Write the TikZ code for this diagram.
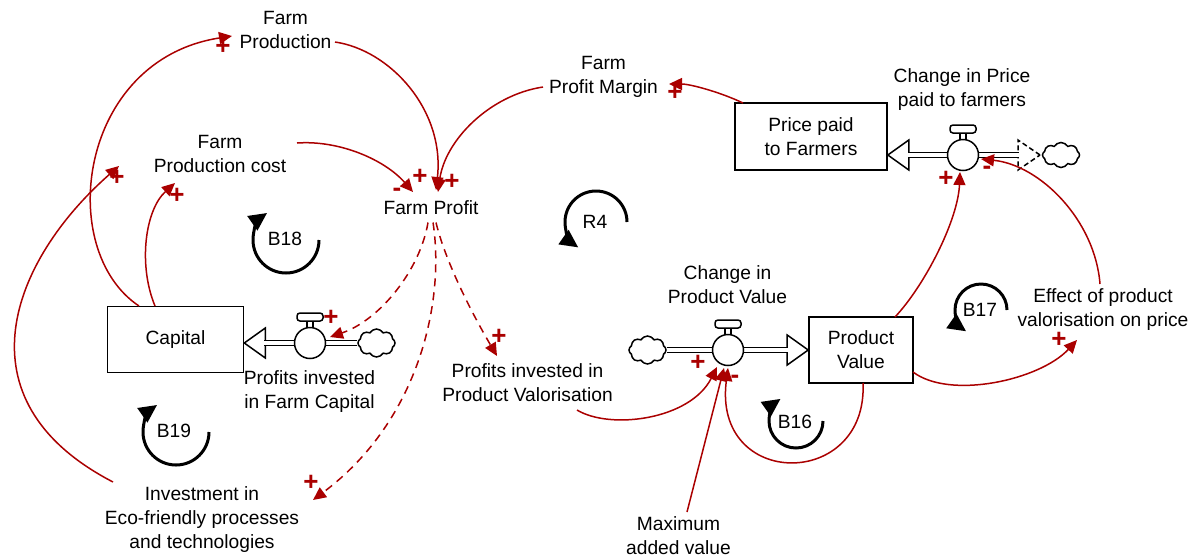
\documentclass[tikz,border=0pt]{standalone}
\usepackage{fontspec}
\setmainfont{Liberation Sans}
\usetikzlibrary{arrows.meta,shapes.symbols}
\definecolor{linkred}{RGB}{170,0,0}
\begin{document}
\begin{tikzpicture}[x=0.5pt,y=-0.5pt,
  lbl/.style={font=\fontsize{9.6}{12}\selectfont, align=center, inner sep=0pt},
  stock/.style={draw, line width=0.8pt, fill=white, font=\fontsize{9.6}{12}\selectfont, align=center, inner sep=0pt},
  valvec/.style={circle, draw, fill=white, line width=0.75pt, minimum size=15.5pt, inner sep=0pt},
  cloudn/.style={cloud, cloud puffs=8, cloud puff arc=120, aspect=1.4, draw, fill=white, line width=0.75pt, minimum width=18.5pt, minimum height=14pt, inner sep=0pt},
  pipe/.style={draw=black, line width=0.75pt, double=white, double distance=1.6pt},
  flowhead/.style={draw, fill=white, line width=0.75pt, line join=miter},
  link/.style={draw=linkred, line width=0.75pt, -{Triangle[length=6.5pt,width=6pt]}},
  dlink/.style={link, dash pattern=on 4pt off 3pt},
  pol/.style={text=linkred, font=\fontsize{13}{13}\bfseries\selectfont, inner sep=0pt},
  loop/.style={draw, line width=1.5pt, -{Triangle[length=9pt,width=8.5pt]}},
  pics/valve/.style={code={
    \draw[fill=white, line width=0.75pt] (-3,-22) rectangle (3,-14);
    \draw[fill=white, line width=0.75pt, rounded corners=1.5pt] (-13,-30) rectangle (13,-22);
  }}
]
\useasboundingbox (0,0) rectangle (1193,558);

% ---------- auxiliary variables ----------
\node[lbl] (fprod)  at (285.5,30)  {Farm\\Production};
\node[lbl] (fcost)  at (220,154)   {Farm\\Production cost};
\node[lbl] (fprof)  at (431,207.5) {Farm Profit};
\node[lbl] (fmarg)  at (603.5,76.5){Farm\\Profit Margin};
\node[lbl] (chpr)   at (962,89.5)  {Change in Price\\paid to farmers};
\node[lbl] (pifc)   at (309.5,391.5){Profits invested\\in Farm Capital};
\node[lbl] (pipv)   at (527.5,382.5){Profits invested in\\Product Valorisation};
\node[lbl] (chpv)   at (727.5,285) {Change in\\Product Value};
\node[lbl] (effect) at (1103,309.5){Effect of product\\valorisation on price};
\node[lbl] (maxav)  at (678.5,536) {Maximum\\added value};
\node[lbl] (inv)    at (202,520)   {Investment in\\Eco-friendly processes\\and technologies};

% ---------- stocks ----------
\node[stock, minimum width=68pt, minimum height=33pt]   (cap)   at (175.5,339.5) {Capital};
\node[stock, minimum width=76pt, minimum height=33.5pt] (price) at (811,136.5)   {Price paid\\to Farmers};
\node[stock, minimum width=52pt, minimum height=33pt]   (pv)    at (861,350)     {Product\\Value};

% ---------- sources / sinks ----------
\node[cloudn] (ccloud) at (376.5,343) {};
\node[cloudn] (vcloud) at (647.5,350) {};
\node[cloudn, minimum height=12.5pt] (pcloud) at (1061,155) {};

% ---------- flow: Profits invested in Farm Capital ----------
\coordinate (ctip) at (cap.east |- 0,343);
\draw[flowhead] (ctip) -- ++(21,-15) -- ++(0,30) -- cycle;
\draw[pipe] (ccloud.west) -- ([shift={(20,0)}]ctip);
\pic at (310,343) {valve};
\node[valvec] (cvalve) at (310,343) {};

% ---------- flow: Change in Product Value ----------
\coordinate (vtip) at (pv.west |- 0,350);
\draw[flowhead] (vtip) -- ++(-21,-15) -- ++(0,30) -- cycle;
\draw[pipe] (vcloud.east) -- ([shift={(-20,0)}]vtip);
\pic at (728,350) {valve};
\node[valvec] (vvalve) at (728,350) {};

% ---------- flow: Change in Price paid to farmers ----------
\coordinate (ptip) at (price.east |- 0,155);
\coordinate (qtip) at (1040,155);
\draw[flowhead] (ptip) -- ++(21,-15) -- ++(0,30) -- cycle;
\draw[flowhead, dash pattern=on 2.5pt off 1.5pt] (qtip) -- ++(-22,-15) -- ++(0,30) -- cycle;
\draw[pipe] ([shift={(-21,0)}]qtip) -- ([shift={(20,0)}]ptip);
\pic at (963,155) {valve};
\node[valvec] (pvalve) at (963,155) {};

% ---------- causal links ----------
\draw[link] ([shift={(-36.5,-33.5)}]cap.center) .. controls (55,250) and (78,60) .. ([shift={(-53.5,6)}]fprod.center);
\draw[link] ([shift={(49.5,12)}]fprod.center) .. controls (390,50) and (445,110) .. ([shift={(5,-17.5)}]fprof.center);
\draw[link] ([shift={(77,-11)}]fcost.center) .. controls (340,140) and (385,160) .. ([shift={(-18,-15.5)}]fprof.center);
\draw[link] ([shift={(-60.5,10.5)}]fmarg.center) .. controls (490,95) and (445,140) .. ([shift={(7,-15.5)}]fprof.center);
\draw[link] ([shift={(-68,-33.5)}]price.center) .. controls (720,92) and (690,84) .. ([shift={(65.5,7.5)}]fmarg.center);
\draw[link] ([shift={(-20.5,-33.5)}]cap.center) .. controls (138,265) and (145,210) .. ([shift={(-45,29)}]fcost.center);
\draw[link] ([shift={(-89,-38)}]inv.center) .. controls (-45,400) and (12,260) .. ([shift={(-101,12)}]fcost.center);
\draw[dlink] ([shift={(-3,15)}]fprof.center) .. controls (420,270) and (380,320) .. ([shift={(20,-6)}]cvalve.center);
\draw[dlink] ([shift={(2,15)}]fprof.center) .. controls (445,300) and (420,420) .. ([shift={(111,-20)}]inv.center);
\draw[dlink] ([shift={(5,15)}]fprof.center) .. controls (445,260) and (470,310) .. ([shift={(-30.5,-26.5)}]pipv.center);
\draw[link] ([shift={(49.5,27.5)}]pipv.center) .. controls (610,430) and (690,420) .. ([shift={(-11,17)}]vvalve.center);
\draw[link] ([shift={(8.5,-24)}]maxav.center) -- ([shift={(-4,18)}]vvalve.center);
\draw[link] ([shift={(2,33)}]pv.center) .. controls (868,490) and (712,490) .. ([shift={(0,18)}]vvalve.center);
\draw[link] ([shift={(52,22)}]pv.center) .. controls (950,400) and (1040,380) .. ([shift={(-26,30.5)}]effect.center);
\draw[link] ([shift={(34,-33)}]pv.center) .. controls (925,285) and (958,220) .. ([shift={(-3,17)}]pvalve.center);
\draw[link] ([shift={(-3,-25.5)}]effect.center) .. controls (1095,220) and (1040,165) .. ([shift={(18,4)}]pvalve.center);

% ---------- link polarities ----------
\node[pol] (s1)  at (223,47)  {+};
\node[pol] (s2)  at (420,177) {+};
\node[pol] (s3)  at (397,192) {-};
\node[pol] (s4)  at (452,182) {+};
\node[pol] (s5)  at (675,93)  {+};
\node[pol] (s6)  at (177,196) {+};
\node[pol] (s7)  at (117,178) {+};
\node[pol] (s8)  at (331,318) {+};
\node[pol] (s9)  at (311,483) {+};
\node[pol] (s10) at (499,337) {+};
\node[pol] (s11) at (698,363) {+};
\node[pol] (s13) at (735,379) {-};
\node[pol] (s14) at (1059,340){+};
\node[pol] (s15) at (946,179) {+};
\node[pol] (s16) at (987,170) {-};

% ---------- loop markers ----------
\draw[loop] (319,240) arc[start angle=0, end angle=-235, radius=16.5pt];
\node[lbl] (b18) at (285,239) {B18};
\draw[loop] (209,432) arc[start angle=0, end angle=-235, radius=16.5pt];
\node[lbl] (b19) at (174,431) {B19};
\draw[loop] (627,222) arc[start angle=0, end angle=235, radius=15.5pt];
\node[lbl] (r4) at (595,222) {R4};
\draw[loop] (823,421) arc[start angle=0, end angle=-235, radius=13.5pt];
\node[lbl] (b16) at (795,422) {B16};
\draw[loop] (1007,310) arc[start angle=0, end angle=235, radius=13pt];
\node[lbl] (b17) at (980,310) {B17};
\end{tikzpicture}
\end{document}
